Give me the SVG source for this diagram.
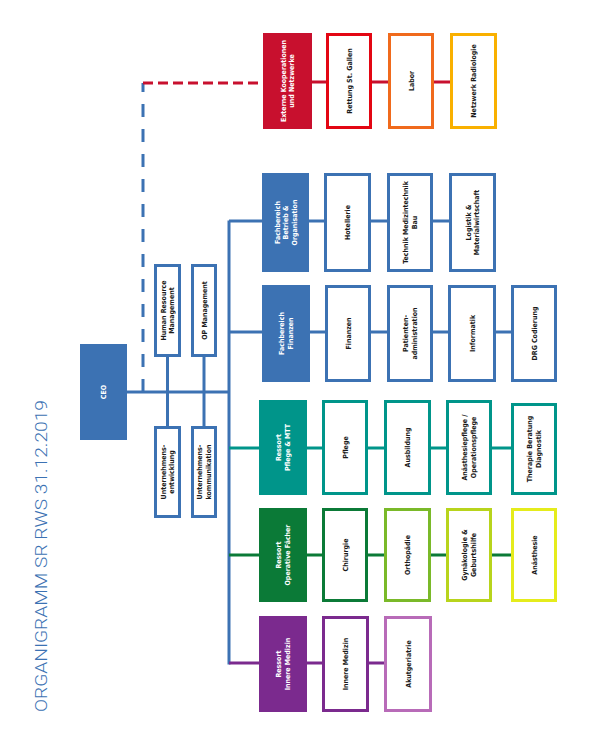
<svg xmlns="http://www.w3.org/2000/svg" width="593" height="747" viewBox="0 0 593 747">
<style>
  text { font-family: "DejaVu Sans Condensed", "DejaVu Sans", "Liberation Sans", sans-serif; font-weight: bold; font-size: 7px; text-anchor: middle; }
  .w { fill: #ffffff; }
  .k { fill: #1a1a1a; }
  .box { fill: #ffffff; stroke-width: 3; }
  .ln { fill: none; stroke-width: 3; }
  .title { font-family: Roboto, "Liberation Sans", sans-serif; font-weight: 300; font-size: 17px; fill: #3c72b3; text-anchor: start; }
</style>

<text class="title" transform="translate(47,712) rotate(-90)" x="0" y="0" textLength="312" lengthAdjust="spacingAndGlyphs">ORGANIGRAMM SR RWS 31.12.2019</text>

<g id="connectors">
  <path class="ln" d="M143,392 V83" stroke="#3c72b3" stroke-dasharray="13,12"/>
  <path class="ln" d="M143,83 H263" stroke="#c8102e" stroke-dasharray="10,5"/>
  <path class="ln" d="M127,392 H229" stroke="#3c72b3"/>
  <path class="ln" d="M167.5,357 V426" stroke="#3c72b3"/>
  <path class="ln" d="M204,357 V426" stroke="#3c72b3"/>
  <path class="ln" d="M229,220.5 V664.5" stroke="#3c72b3"/>
  <path class="ln" d="M229,221 H262" stroke="#3c72b3"/>
  <path class="ln" d="M229,332 H262" stroke="#3c72b3"/>
  <path class="ln" d="M229,448 H259" stroke="#00958a"/>
  <path class="ln" d="M229,555 H259" stroke="#0b7a37"/>
  <path class="ln" d="M229,663 H259" stroke="#7b2a8e"/>
  <path class="ln" d="M312,82 H326 M372,82 H388 M434,82 H450" stroke="#c8102e"/>
  <path class="ln" d="M309,221 H324 M371,221 H387 M433,221 H449" stroke="#3c72b3"/>
  <path class="ln" d="M310,332 H325 M371,332 H387 M433,332 H448 M496,332 H511" stroke="#3c72b3"/>
  <path class="ln" d="M307,448 H322 M368,448 H384 M431,448 H446 M492,448 H511" stroke="#00958a"/>
  <path class="ln" d="M307,555 H322 M368,555 H384 M431,555 H446 M492,555 H511" stroke="#0b7a37"/>
  <path class="ln" d="M307,663 H322 M369,663 H384" stroke="#7b2a8e"/>
</g>

<g id="ceo">
  <rect x="80" y="344" width="47" height="96" fill="#3c72b3"/>
  <text class="w" transform="translate(103.5,392) rotate(-90)" y="2.5">CEO</text>
</g>
<g id="hr">
  <rect class="box" x="155.5" y="265.5" width="24" height="90" stroke="#3c72b3"/>
  <text class="k" transform="translate(167.5,310.5) rotate(-90)"><tspan x="0" y="-1.8">Human Resource</tspan><tspan x="0" y="6.8">Management</tspan></text>
</g>
<g id="op">
  <rect class="box" x="192.5" y="265.5" width="23" height="90" stroke="#3c72b3"/>
  <text class="k" transform="translate(204,310.5) rotate(-90)" y="2.5">OP Management</text>
</g>
<g id="uent">
  <rect class="box" x="155.5" y="427.5" width="24" height="89" stroke="#3c72b3"/>
  <text class="k" transform="translate(167.5,472) rotate(-90)"><tspan x="0" y="-1.8">Unternehmens-</tspan><tspan x="0" y="6.8">entwicklung</tspan></text>
</g>
<g id="ukomm">
  <rect class="box" x="192.5" y="427.5" width="23" height="89" stroke="#3c72b3"/>
  <text class="k" transform="translate(204,472) rotate(-90)"><tspan x="0" y="-1.8">Unternehmens-</tspan><tspan x="0" y="6.8">kommunikation</tspan></text>
</g>

<!-- Row Externe -->
<g id="externe">
  <rect x="263" y="33" width="49" height="96" fill="#c8102e"/>
  <text class="w" transform="translate(287.5,81) rotate(-90)"><tspan x="0" y="-1.8">Externe Kooperationen</tspan><tspan x="0" y="6.8">und Netzwerke</tspan></text>
</g>
<g id="rettung">
  <rect class="box" x="327.5" y="34.5" width="43" height="93" stroke="#e30613"/>
  <text class="k" transform="translate(349,81) rotate(-90)" y="2.5">Rettung St. Gallen</text>
</g>
<g id="labor">
  <rect class="box" x="389.5" y="34.5" width="43" height="93" stroke="#f06a1c"/>
  <text class="k" transform="translate(411,81) rotate(-90)" y="2.5">Labor</text>
</g>
<g id="netzwerk">
  <rect class="box" x="451.5" y="34.5" width="44" height="93" stroke="#f9b000"/>
  <text class="k" transform="translate(473.5,81) rotate(-90)" y="2.5">Netzwerk Radiologie</text>
</g>

<!-- Row Betrieb -->
<g id="betrieb">
  <rect x="262" y="173" width="47" height="99" fill="#3c72b3"/>
  <text class="w" transform="translate(285.5,222.5) rotate(-90)"><tspan x="0" y="-6">Fachbereich</tspan><tspan x="0" y="2.5">Betrieb &amp;</tspan><tspan x="0" y="11">Organisation</tspan></text>
</g>
<g id="hotellerie">
  <rect class="box" x="325.5" y="174.5" width="44" height="96" stroke="#3c72b3"/>
  <text class="k" transform="translate(347.5,222.5) rotate(-90)" y="2.5">Hotellerie</text>
</g>
<g id="technik">
  <rect class="box" x="388.5" y="174.5" width="43" height="96" stroke="#3c72b3"/>
  <text class="k" transform="translate(410,222.5) rotate(-90)"><tspan x="0" y="-1.8">Technik Medizintechnik</tspan><tspan x="0" y="6.8">Bau</tspan></text>
</g>
<g id="logistik">
  <rect class="box" x="450.5" y="174.5" width="44" height="96" stroke="#3c72b3"/>
  <text class="k" transform="translate(472.5,222.5) rotate(-90)"><tspan x="0" y="-1.8">Logistik &amp;</tspan><tspan x="0" y="6.8">Materialwirtschaft</tspan></text>
</g>

<!-- Row Finanzen -->
<g id="fbfinanzen">
  <rect x="262" y="285" width="48" height="97" fill="#3c72b3"/>
  <text class="w" transform="translate(286,333.5) rotate(-90)"><tspan x="0" y="-1.8">Fachbereich</tspan><tspan x="0" y="6.8">Finanzen</tspan></text>
</g>
<g id="finanzen">
  <rect class="box" x="326.5" y="286.5" width="43" height="94" stroke="#3c72b3"/>
  <text class="k" transform="translate(348,333.5) rotate(-90)" y="2.5">Finanzen</text>
</g>
<g id="patienten">
  <rect class="box" x="388.5" y="286.5" width="43" height="94" stroke="#3c72b3"/>
  <text class="k" transform="translate(410,333.5) rotate(-90)"><tspan x="0" y="-1.8">Patienten-</tspan><tspan x="0" y="6.8">administration</tspan></text>
</g>
<g id="informatik">
  <rect class="box" x="449.5" y="286.5" width="45" height="94" stroke="#3c72b3"/>
  <text class="k" transform="translate(472,333.5) rotate(-90)" y="2.5">Informatik</text>
</g>
<g id="drg">
  <rect class="box" x="512.5" y="286.5" width="43" height="94" stroke="#3c72b3"/>
  <text class="k" transform="translate(534,333.5) rotate(-90)" y="2.5">DRG Codierung</text>
</g>

<!-- Row Pflege -->
<g id="rpflege">
  <rect x="259" y="400" width="48" height="95" fill="#00958a"/>
  <text class="w" transform="translate(283,447.5) rotate(-90)"><tspan x="0" y="-1.8">Ressort</tspan><tspan x="0" y="6.8">Pflege &amp; MTT</tspan></text>
</g>
<g id="pflege">
  <rect class="box" x="323.5" y="401.5" width="43" height="92" stroke="#00958a"/>
  <text class="k" transform="translate(345,447.5) rotate(-90)" y="2.5">Pflege</text>
</g>
<g id="ausbildung">
  <rect class="box" x="385.5" y="401.5" width="44" height="92" stroke="#00958a"/>
  <text class="k" transform="translate(407.5,447.5) rotate(-90)" y="2.5">Ausbildung</text>
</g>
<g id="anaesthesiepflege">
  <rect class="box" x="447.5" y="401.5" width="43" height="92" stroke="#00958a"/>
  <text class="k" transform="translate(469,447.5) rotate(-90)"><tspan x="0" y="-1.8">Anästhesiepflege /</tspan><tspan x="0" y="6.8">Operationspflege</tspan></text>
</g>
<g id="therapie">
  <rect class="box" x="512.5" y="404.5" width="43" height="89" stroke="#00958a"/>
  <text class="k" transform="translate(534,449) rotate(-90)"><tspan x="0" y="-1.8">Therapie Beratung</tspan><tspan x="0" y="6.8">Diagnostik</tspan></text>
</g>

<!-- Row Operative -->
<g id="roperative">
  <rect x="259" y="508" width="48" height="94" fill="#0b7a37"/>
  <text class="w" transform="translate(283,555) rotate(-90)"><tspan x="0" y="-1.8">Ressort</tspan><tspan x="0" y="6.8">Operative Fächer</tspan></text>
</g>
<g id="chirurgie">
  <rect class="box" x="323.5" y="509.5" width="43" height="91" stroke="#0b7a37"/>
  <text class="k" transform="translate(345,555) rotate(-90)" y="2.5">Chirurgie</text>
</g>
<g id="orthopaedie">
  <rect class="box" x="385.5" y="509.5" width="44" height="91" stroke="#7ab929"/>
  <text class="k" transform="translate(407.5,555) rotate(-90)" y="2.5">Orthopädie</text>
</g>
<g id="gynaekologie">
  <rect class="box" x="447.5" y="509.5" width="43" height="91" stroke="#b8d41c"/>
  <text class="k" transform="translate(469,555) rotate(-90)"><tspan x="0" y="-1.8">Gynäkologie &amp;</tspan><tspan x="0" y="6.8">Geburtshilfe</tspan></text>
</g>
<g id="anaesthesie">
  <rect class="box" x="512.5" y="509.5" width="43" height="91" stroke="#e5ec1c"/>
  <text class="k" transform="translate(534,555) rotate(-90)" y="2.5">Anästhesie</text>
</g>

<!-- Row Innere -->
<g id="rinnere">
  <rect x="259" y="616" width="48" height="96" fill="#7b2a8e"/>
  <text class="w" transform="translate(283,664) rotate(-90)"><tspan x="0" y="-1.8">Ressort</tspan><tspan x="0" y="6.8">Innere Medizin</tspan></text>
</g>
<g id="innere">
  <rect class="box" x="323.5" y="617.5" width="44" height="93" stroke="#7b2a8e"/>
  <text class="k" transform="translate(345.5,664) rotate(-90)" y="2.5">Innere Medizin</text>
</g>
<g id="akutgeriatrie">
  <rect class="box" x="385.5" y="617.5" width="45" height="93" stroke="#b86bb8"/>
  <text class="k" transform="translate(408,664) rotate(-90)" y="2.5">Akutgeriatrie</text>
</g>
</svg>
